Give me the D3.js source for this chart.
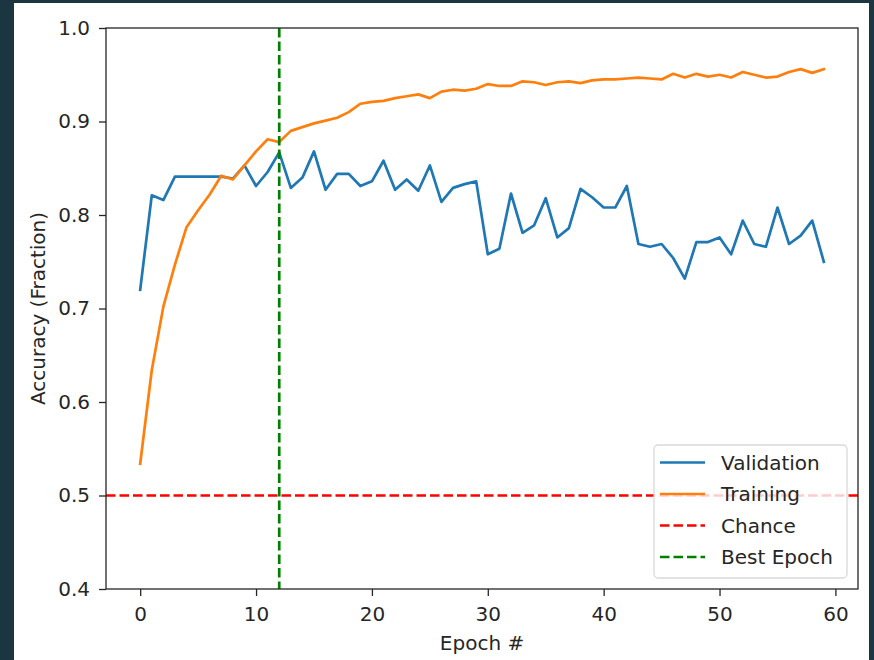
<!DOCTYPE html>
<html>
<head>
<meta charset="utf-8">
<script src="https://cdn.jsdelivr.net/npm/d3@7"></script>
<style>
  html, body { margin: 0; padding: 0; background: #1b3641; }
  svg { display: block; }
  text { font-family: "DejaVu Sans", sans-serif; fill: #262626; }
</style>
</head>
<body>
<div id="chart"></div>
<script>
// Validation accuracy per epoch
var validation = [0.720, 0.821, 0.816, 0.841, 0.841, 0.841, 0.841, 0.841, 0.839, 0.853,
                  0.831, 0.846, 0.867, 0.829, 0.840, 0.868, 0.827, 0.844, 0.844, 0.831,
                  0.836, 0.858, 0.827, 0.838, 0.826, 0.853, 0.814, 0.829, 0.833, 0.836,
                  0.758, 0.764, 0.823, 0.781, 0.789, 0.818, 0.776, 0.786, 0.828, 0.819,
                  0.808, 0.808, 0.831, 0.769, 0.766, 0.769, 0.754, 0.732, 0.771, 0.771,
                  0.776, 0.758, 0.794, 0.769, 0.766, 0.808, 0.769, 0.778, 0.794, 0.750];

// Training accuracy per epoch
var training = [0.534, 0.634, 0.702, 0.747, 0.787, 0.805, 0.822, 0.842, 0.838, 0.853,
                0.868, 0.881, 0.878, 0.890, 0.894, 0.898, 0.901, 0.904, 0.910, 0.919,
                0.921, 0.922, 0.925, 0.927, 0.929, 0.925, 0.932, 0.934, 0.933, 0.935,
                0.940, 0.938, 0.938, 0.943, 0.942, 0.939, 0.942, 0.943, 0.941, 0.944,
                0.945, 0.945, 0.946, 0.947, 0.946, 0.945, 0.951, 0.947, 0.951, 0.948,
                0.950, 0.947, 0.953, 0.950, 0.947, 0.948, 0.953, 0.956, 0.952, 0.956];

var chance = 0.5;
var bestEpoch = 12;

var xTicks = [0, 10, 20, 30, 40, 50, 60];
var yTicks = [0.4, 0.5, 0.6, 0.7, 0.8, 0.9, 1.0];

var legendNames = ["Validation", "Training", "Chance", "Best Epoch"];
var legendColors = ["#1f77b4", "#ff7f0e", "#ff0000", "#008000"];
var legendDashed = [false, false, true, true];

// Figure size and axes box
var W = 874, H = 660;
var margin = {top: 28, right: 16, bottom: 71, left: 106};
var width = W - margin.left - margin.right,
    height = H - margin.top - margin.bottom;
var fontSize = "20px";

var svg = d3.select("#chart")
  .append("svg")
  .attr("width", W)
  .attr("height", H);

// White figure background
svg.append("rect")
  .attr("x", 14).attr("y", 3)
  .attr("width", 855).attr("height", H - 3)
  .attr("fill", "#ffffff");

var g = svg.append("g")
  .attr("transform", "translate(" + margin.left + "," + margin.top + ")");

var n = validation.length;
var pad = (n - 1) * 0.05;
var xScale = d3.scaleLinear()
  .domain([-pad, n - 1 + pad])
  .range([0, width]);

var yScale = d3.scaleLinear()
  .domain([0.4, 1.0])
  .range([height, 0]);

g.append("clipPath").attr("id", "clip")
  .append("rect").attr("width", width).attr("height", height);

var plot = g.append("g").attr("clip-path", "url(#clip)");

var line = d3.line()
  .x(function(d, i) { return xScale(i); })
  .y(function(d) { return yScale(d); });

plot.append("path")
  .datum(validation)
  .attr("d", line)
  .attr("fill", "none")
  .attr("stroke", "#1f77b4")
  .attr("stroke-width", 2.7)
  .attr("stroke-linejoin", "round")
  .attr("stroke-linecap", "square");

plot.append("path")
  .datum(training)
  .attr("d", line)
  .attr("fill", "none")
  .attr("stroke", "#ff7f0e")
  .attr("stroke-width", 2.7)
  .attr("stroke-linejoin", "round")
  .attr("stroke-linecap", "square");

// Chance line
plot.append("line")
  .attr("x1", 0).attr("x2", width)
  .attr("y1", yScale(chance)).attr("y2", yScale(chance))
  .attr("stroke", "#ff0000")
  .attr("stroke-width", 2.7)
  .attr("stroke-dasharray", "9.5,4");

// Best epoch line
plot.append("line")
  .attr("x1", xScale(bestEpoch)).attr("x2", xScale(bestEpoch))
  .attr("y1", 0).attr("y2", height)
  .attr("stroke", "#008000")
  .attr("stroke-width", 2.7)
  .attr("stroke-dasharray", "9.5,4");

// Axes
var xAxis = g.append("g")
  .attr("transform", "translate(0," + height + ")")
  .call(d3.axisBottom(xScale).tickValues(xTicks).tickSize(7).tickPadding(11).tickFormat(d3.format("d")));

var yAxis = g.append("g")
  .call(d3.axisLeft(yScale).tickValues(yTicks).tickSize(7).tickPadding(9).tickFormat(d3.format(".1f")));

[xAxis, yAxis].forEach(function(a) {
  a.select(".domain").remove();
  a.selectAll("line").attr("stroke", "#262626").attr("stroke-width", 1.3);
  a.selectAll("text").style("font-size", fontSize).style("font-family", "DejaVu Sans, sans-serif").attr("fill", "#262626");
});

// Spines
g.append("rect")
  .attr("width", width).attr("height", height)
  .attr("fill", "none")
  .attr("stroke", "#262626")
  .attr("stroke-width", 1.3);

// Axis labels
g.append("text")
  .attr("x", width / 2)
  .attr("y", height + 61)
  .attr("text-anchor", "middle")
  .style("font-size", fontSize)
  .text("Epoch #");

g.append("text")
  .attr("transform", "translate(" + (-61) + "," + (height / 2) + ") rotate(-90)")
  .attr("text-anchor", "middle")
  .style("font-size", fontSize)
  .text("Accuracy (Fraction)");

// Legend
var legend = g.append("g")
  .attr("transform", "translate(" + (654 - margin.left) + "," + (445 - margin.top) + ")");

legend.append("rect")
  .attr("width", 193).attr("height", 133)
  .attr("rx", 4).attr("ry", 4)
  .attr("fill", "rgba(255,255,255,0.8)")
  .attr("stroke", "#d9d9d9")
  .attr("stroke-width", 1.3);

legendNames.forEach(function(name, i) {
  var y = 17.5 + i * 31.5;
  legend.append("line")
    .attr("x1", 6).attr("x2", 51)
    .attr("y1", y).attr("y2", y)
    .attr("stroke", legendColors[i])
    .attr("stroke-width", 2.7)
    .attr("stroke-dasharray", legendDashed[i] ? "9.5,4" : null);
  legend.append("text")
    .attr("x", 67)
    .attr("y", y + 7)
    .style("font-size", fontSize)
    .text(name);
});
</script>
</body>
</html>
